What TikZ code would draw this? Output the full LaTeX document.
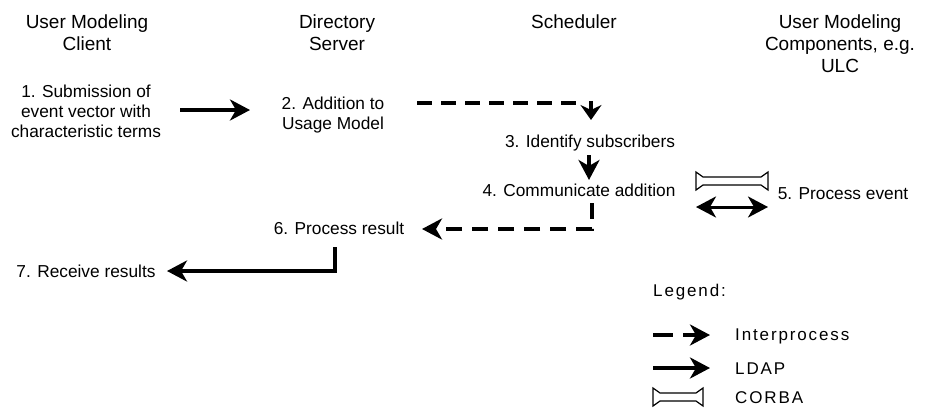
\documentclass[tikz,border=0pt]{standalone}
\usepackage{fontspec}
\setmainfont{Liberation Sans}
\newfontfamily\legfont[LetterSpace=11]{Liberation Sans}
\usetikzlibrary{arrows.meta}
\begin{document}
\begin{tikzpicture}[x=1pt,y=-1pt,
  title/.style={anchor=north,inner sep=0pt,align=center,font=\fontsize{19}{22}\selectfont},
  stepbox/.style={anchor=north,inner sep=0pt,align=center,font=\fontsize{17.3}{20}\selectfont},
  legtext/.style={anchor=west,inner sep=0pt,font=\legfont\fontsize{17}{20}\selectfont},
  tip/.style={-{Stealth[length=20pt,width=21pt,inset=6pt]}},
  ldap/.style={tip,line width=4.5pt},
  ipc/.style={line width=4.5pt,dash pattern=on 15pt off 9pt},
  corba/.pic={\draw[line width=1.2pt,fill=white] (0,-9) -- (7,-4) -- (#1-7,-4) -- (#1,-9) -- (#1,9) -- (#1-7,4) -- (7,4) -- (0,9) -- cycle;}
]
\useasboundingbox (0,0) rectangle (925,407);

% titles
\node[title] (umc) at (87,15) {User Modeling\\Client};
\node[title] (ds) at (337,15) {Directory\\Server};
\node[title] (sch) at (574,15) {Scheduler};
\node[title] (ulc) at (840,15) {User Modeling\\Components, e.g.\\ULC};

% steps
\node[stepbox] (s1) at (86,85) {1. Submission of\\event vector with\\characteristic terms};
\node[stepbox] (s2) at (333,97) {2. Addition to\\Usage Model};
\node[stepbox] (s3) at (590,135) {3. Identify subscribers};
\node[stepbox] (s4) at (579,184) {4. Communicate addition};
\node[stepbox] (s5) at (843,187) {5. Process event};
\node[stepbox] (s6) at (339,222) {6. Process result};
\node[stepbox] (s7) at (86,265) {7. Receive results};

% connector ends
\coordinate (a1s) at (180,110);
\coordinate (a1e) at (250,110);
\coordinate (a2s) at (417,103);
\coordinate (a2m) at (583,103);
\coordinate (a2c) at (591,100.75);
\coordinate (a2e) at (591,120);
\coordinate (a3s) at (589,155);
\coordinate (a3e) at (589,180);
\coordinate (a4s) at (592,203);
\coordinate (a4e) at (422,229);
\coordinate (a5s) at (696,207);
\coordinate (a5e) at (768,207);
\coordinate (a6s) at (335,247);
\coordinate (a6e) at (167,271);

\draw[ldap] (a1s) -- (a1e);
\draw[ipc] (a2s) -- (a2m);
\draw[line width=4.5pt,-{Stealth[length=15pt,width=21pt,inset=5pt]}] (a2c) -- (a2e);
\draw[ldap] (a3s) -- (a3e);
\draw[ipc,tip,dash pattern=on 16pt off 10pt] (a4s) |- (a4e);
\draw[line width=3pt,{Stealth[length=20pt,width=21pt,inset=6pt]}-{Stealth[length=20pt,width=21pt,inset=6pt]}] (a5s) -- (a5e);
\draw[ldap] (a6s) |- (a6e);
\pic at (696,181) {corba=72};

% legend
\node[anchor=north west,inner sep=0pt,font=\legfont\fontsize{17}{20}\selectfont] (leg) at (653,284) {Legend:};
\coordinate (l1s) at (653,335);
\coordinate (l1e) at (710,335);
\coordinate (l2s) at (653,368);
\coordinate (l2e) at (710,368);
\draw[ipc,tip,dash pattern=on 20pt off 10pt] (l1s) -- (l1e);
\draw[ldap] (l2s) -- (l2e);
\pic at (653,397) {corba=50};
\node[legtext] (li) at (735,336) {Interprocess};
\node[legtext] (ll) at (735,369) {LDAP};
\node[legtext] (lc) at (735,397.5) {CORBA};
\end{tikzpicture}
\end{document}
